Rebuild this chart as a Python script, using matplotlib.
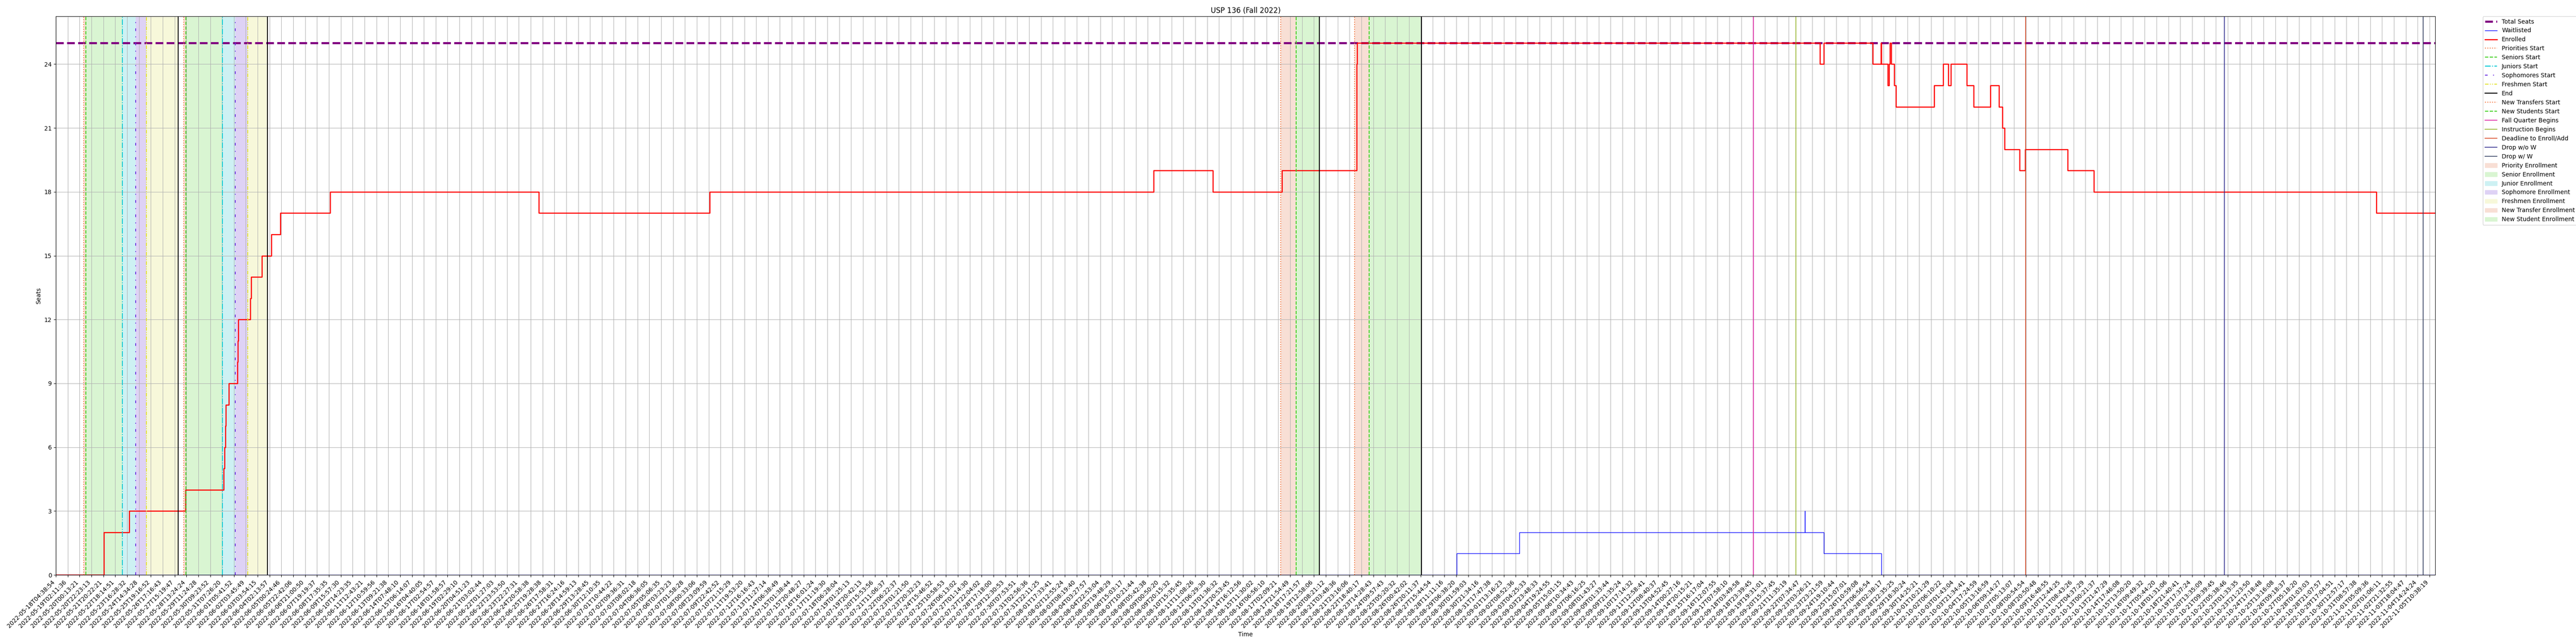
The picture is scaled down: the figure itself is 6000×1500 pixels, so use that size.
import numpy as np
import matplotlib
matplotlib.use("Agg")
import matplotlib.pyplot as plt
import matplotlib.dates as mdates
from matplotlib.patches import Patch
import pandas as pd

title = "USP 136 (Fall 2022)"
total_seats = 25

tick_times = [
    "2022-05-18T04:38:54", "2022-05-19T02:11:36", "2022-05-20T00:13:21", "2022-05-20T22:23:13",
    "2022-05-21T20:22:21", "2022-05-22T18:14:51", "2022-05-23T16:28:32", "2022-05-24T14:34:28",
    "2022-05-25T19:16:52", "2022-05-26T17:16:43", "2022-05-27T15:19:47", "2022-05-28T13:24:24",
    "2022-05-29T11:24:28", "2022-05-30T09:23:52", "2022-05-31T07:26:20", "2022-06-01T05:41:52",
    "2022-06-02T03:45:49", "2022-06-03T03:54:15", "2022-06-04T02:13:57", "2022-06-05T00:24:46",
    "2022-06-05T22:42:06", "2022-06-06T21:00:50", "2022-06-07T19:19:37", "2022-06-08T17:35:35",
    "2022-06-09T15:57:30", "2022-06-10T14:23:35", "2022-06-11T12:43:21", "2022-06-12T10:59:56",
    "2022-06-13T09:21:38", "2022-06-14T07:48:10", "2022-06-15T06:14:07", "2022-06-16T04:40:05",
    "2022-06-17T02:54:57", "2022-06-18T01:58:57", "2022-06-19T02:29:10", "2022-06-20T04:51:23",
    "2022-06-21T03:02:44", "2022-06-22T01:27:03", "2022-06-22T23:53:50", "2022-06-23T22:27:31",
    "2022-06-24T20:58:38", "2022-06-25T19:28:38", "2022-06-26T17:58:31", "2022-06-27T16:24:16",
    "2022-06-28T14:59:13", "2022-06-29T13:28:45", "2022-06-30T12:10:35", "2022-07-01T10:44:22",
    "2022-07-02T09:36:31", "2022-07-03T08:02:18", "2022-07-04T06:36:05", "2022-07-05T05:06:35",
    "2022-07-06T03:23:23", "2022-07-07T01:58:28", "2022-07-08T00:33:06", "2022-07-08T23:09:59",
    "2022-07-09T22:42:52", "2022-07-10T21:15:29", "2022-07-11T19:53:20", "2022-07-12T16:16:43",
    "2022-07-13T11:27:14", "2022-07-14T06:38:49", "2022-07-15T01:38:44", "2022-07-15T20:48:27",
    "2022-07-16T16:01:24", "2022-07-17T11:19:30", "2022-07-18T06:28:04", "2022-07-19T01:25:13",
    "2022-07-19T20:42:13", "2022-07-20T15:53:56", "2022-07-21T11:06:37", "2022-07-22T06:22:37",
    "2022-07-23T01:21:50", "2022-07-23T20:32:23", "2022-07-24T15:46:52", "2022-07-25T10:58:53",
    "2022-07-26T06:13:02", "2022-07-27T01:14:30", "2022-07-27T22:04:02", "2022-07-28T17:18:00",
    "2022-07-29T12:30:53", "2022-07-30T07:53:51", "2022-07-31T02:56:36", "2022-07-31T22:11:25",
    "2022-08-01T17:33:41", "2022-08-02T12:55:24", "2022-08-03T08:19:40", "2022-08-04T03:27:57",
    "2022-08-04T22:53:04", "2022-08-05T19:48:29", "2022-08-06T15:03:17", "2022-08-07T10:21:44",
    "2022-08-08T05:42:38", "2022-08-09T00:50:20", "2022-08-09T20:15:32", "2022-08-10T15:35:45",
    "2022-08-11T11:08:26", "2022-08-12T06:29:30", "2022-08-13T01:36:32", "2022-08-13T20:53:45",
    "2022-08-14T16:12:56", "2022-08-15T11:30:02", "2022-08-16T06:56:10", "2022-08-17T02:09:21",
    "2022-08-17T21:54:49", "2022-08-18T17:21:57", "2022-08-19T12:58:06", "2022-08-20T08:21:12",
    "2022-08-21T03:48:36", "2022-08-21T23:16:06", "2022-08-22T18:40:17", "2022-08-23T14:28:43",
    "2022-08-24T09:57:43", "2022-08-25T05:20:32", "2022-08-26T00:42:02", "2022-08-26T20:11:37",
    "2022-08-27T15:44:54", "2022-08-28T11:11:16", "2022-08-29T06:38:20", "2022-08-30T01:59:03",
    "2022-08-30T21:34:16", "2022-08-31T17:47:38", "2022-09-01T13:16:23", "2022-09-02T08:52:36",
    "2022-09-03T04:25:33", "2022-09-03T23:48:33", "2022-09-04T19:24:55", "2022-09-05T15:01:15",
    "2022-09-06T10:34:43", "2022-09-07T06:16:25", "2022-09-08T01:43:27", "2022-09-09T01:33:44",
    "2022-09-09T21:35:24", "2022-09-10T17:14:32", "2022-09-11T12:58:41", "2022-09-12T08:40:37",
    "2022-09-13T04:52:45", "2022-09-14T00:27:16", "2022-09-14T20:15:21", "2022-09-15T16:17:04",
    "2022-09-16T12:07:55", "2022-09-17T07:58:10", "2022-09-18T03:49:58", "2022-09-18T23:39:45",
    "2022-09-19T19:31:01", "2022-09-20T15:37:45", "2022-09-21T11:35:19", "2022-09-22T07:34:47",
    "2022-09-23T03:26:21", "2022-09-23T23:21:59", "2022-09-24T19:10:44", "2022-09-25T15:07:01",
    "2022-09-26T10:59:08", "2022-09-27T06:56:54", "2022-09-28T02:38:17", "2022-09-28T22:35:25",
    "2022-09-29T18:30:24", "2022-09-30T14:25:21", "2022-10-01T10:21:29", "2022-10-02T06:10:22",
    "2022-10-03T01:43:04", "2022-10-03T21:34:41", "2022-10-04T17:24:59", "2022-10-05T13:16:59",
    "2022-10-06T09:14:27", "2022-10-07T05:13:07", "2022-10-08T00:54:54", "2022-10-08T20:50:48",
    "2022-10-09T16:48:55", "2022-10-10T12:44:25", "2022-10-11T08:43:26", "2022-10-12T04:37:29",
    "2022-10-13T00:21:37", "2022-10-13T21:47:29", "2022-10-14T17:46:08", "2022-10-15T13:50:20",
    "2022-10-16T09:49:32", "2022-10-17T05:44:20", "2022-10-18T01:31:06", "2022-10-18T21:40:41",
    "2022-10-19T17:37:24", "2022-10-20T13:35:09", "2022-10-21T09:39:45", "2022-10-22T05:38:46",
    "2022-10-23T01:33:35", "2022-10-23T21:23:50", "2022-10-24T17:18:48", "2022-10-25T13:16:08",
    "2022-10-26T09:18:37", "2022-10-27T05:18:20", "2022-10-28T01:03:03", "2022-10-28T21:07:57",
    "2022-10-29T17:04:51", "2022-10-30T12:57:17", "2022-10-31T08:57:38", "2022-11-01T05:09:36",
    "2022-11-02T01:06:11", "2022-11-02T21:32:55", "2022-11-03T18:04:47", "2022-11-04T14:24:24",
    "2022-11-05T10:38:19",
]
data_end = "2022-11-05T20:05:00"

enrolled_times = [
    "2022-05-18T04:38:54", "2022-05-21T21:10", "2022-05-21T21:40", "2022-05-23T20:30",
    "2022-05-28T11:40", "2022-05-31T10:30", "2022-05-31T11:50", "2022-05-31T13:20",
    "2022-05-31T14:30", "2022-05-31T20:30", "2022-06-01T12:05", "2022-06-01T12:45",
    "2022-06-01T13:40", "2022-06-02T12:40", "2022-06-02T14:20", "2022-06-03T11:55",
    "2022-06-04T05:30", "2022-06-04T22:50", "2022-06-08T19:50", "2022-06-25T12:45",
    "2022-07-09T01:30", "2022-08-08T15:20", "2022-08-12T16:05", "2022-08-17T08:05",
    "2022-08-22T10:55", "2022-08-22T12:00",
    "2022-09-23T16:25", "2022-09-23T22:33", "2022-09-27T08:20", "2022-09-27T22:30",
    "2022-09-27T23:10", "2022-09-28T09:50", "2022-09-28T11:35", "2022-09-28T13:35",
    "2022-09-28T15:15", "2022-09-28T20:15", "2022-09-28T23:10", "2022-10-01T15:40",
    "2022-10-02T06:45", "2022-10-02T15:00", "2022-10-02T19:05", "2022-10-03T21:47",
    "2022-10-04T08:55", "2022-10-05T13:17", "2022-10-06T03:30", "2022-10-06T09:38",
    "2022-10-06T13:14", "2022-10-07T14:30", "2022-10-07T23:32", "2022-10-10T23:10",
    "2022-10-12T18:25", "2022-11-01T15:10",
]
enrolled_values = [
    0, 1, 2, 3,
    4, 5, 6, 7,
    8, 9, 10, 11,
    12, 13, 14, 15,
    16, 17, 18, 17,
    18, 19, 18, 19,
    24, 25,
    24, 25, 24, 25,
    24, 23, 24, 25,
    24, 23, 22, 23,
    24, 23, 24, 23,
    22, 23, 22, 21,
    20, 19, 20, 19,
    18, 17,
]

waitlist_times = [
    "2022-05-18T04:38:54", "2022-08-29T07:25", "2022-09-02T14:45", "2022-09-22T14:45",
    "2022-09-22T15:05", "2022-09-23T22:33", "2022-09-27T22:42",
]
waitlist_values = [0, 1, 2, 3, 2, 1, 0]

pass_event_names = ["Priorities Start", "Seniors Start", "Juniors Start",
                    "Sophomores Start", "Freshmen Start", "End"]
first_pass_times = ["2022-05-20T07:48", "2022-05-20T11:44", "2022-05-23T07:20",
                    "2022-05-24T08:25", "2022-05-25T08:20", "2022-05-27T22:10"]
second_pass_times = ["2022-05-28T08:32", "2022-05-28T12:20", "2022-05-31T07:53",
                     "2022-06-01T08:21", "2022-06-02T07:37", "2022-06-03T22:12"]
pass_span_names = ["Priority Enrollment", "Senior Enrollment", "Junior Enrollment",
                   "Sophomore Enrollment", "Freshmen Enrollment"]

new_event_names = ["New Transfers Start", "New Students Start", "End"]
new_pass1_times = ["2022-08-17T06:20", "2022-08-18T07:40", "2022-08-19T22:05"]
new_pass2_times = ["2022-08-22T07:25", "2022-08-23T07:20", "2022-08-26T21:35"]
new_span_names = ["New Transfer Enrollment", "New Student Enrollment"]

term_event_names = ["Fall Quarter Begins", "Instruction Begins", "Deadline to Enroll/Add",
                    "Drop w/o W", "Drop w/ W"]
term_event_times = ["2022-09-19T00:00", "2022-09-22T00:00", "2022-10-08T00:00",
                    "2022-10-22T00:00", "2022-11-05T00:00"]

# ---------------- styles ----------------
event_style = {
    "Priorities Start": dict(color="#f4733a", ls=":", lw=1.5),
    "Seniors Start": dict(color="#3fcf1f", ls="--", lw=1.5),
    "Juniors Start": dict(color="#00c8d4", ls="-.", lw=1.5),
    "Sophomores Start": dict(color="#6a2ee0", ls=(0, (3, 6, 1, 6)), lw=1.5),
    "Freshmen Start": dict(color="#e2e22e", ls=(0, (4, 1.5, 1, 1.5, 1, 1.5)), lw=1.5),
    "End": dict(color="black", ls="-", lw=1.5),
    "New Transfers Start": dict(color="#f4733a", ls=":", lw=1.5),
    "New Students Start": dict(color="#3fcf1f", ls="--", lw=1.5),
    "Fall Quarter Begins": dict(color="#dd1aa0", ls="-", lw=1.2),
    "Instruction Begins": dict(color="#8db01e", ls="-", lw=1.2),
    "Deadline to Enroll/Add": dict(color="#d8431f", ls="-", lw=1.2),
    "Drop w/o W": dict(color="#2e2a8c", ls="-", lw=1.2),
    "Drop w/ W": dict(color="#2e3a5c", ls="-", lw=1.2),
}
span_color = {
    "Priority Enrollment": "#f8dfd5",
    "Senior Enrollment": "#d9f5d2",
    "Junior Enrollment": "#cdf1f3",
    "Sophomore Enrollment": "#ded2f5",
    "Freshmen Enrollment": "#f7f8da",
    "New Transfer Enrollment": "#f8dfd5",
    "New Student Enrollment": "#d9f5d2",
}


def num(ts):
    return mdates.date2num(pd.to_datetime(ts, format="ISO8601").to_pydatetime())


# --------------- index-like time scale (ticks evenly spaced) ---------------
tn = np.asarray(num(tick_times), dtype=float)
ti = np.arange(len(tn), dtype=float)


def fwd(x):
    x = np.asarray(x, dtype=float)
    y = np.interp(x, tn, ti)
    y = np.where(x < tn[0], (x - tn[0]) / (tn[1] - tn[0]), y)
    y = np.where(x > tn[-1], ti[-1] + (x - tn[-1]) / (tn[-1] - tn[-2]), y)
    return y


def inv(y):
    y = np.asarray(y, dtype=float)
    x = np.interp(y, ti, tn)
    x = np.where(y < 0, tn[0] + y * (tn[1] - tn[0]), x)
    x = np.where(y > ti[-1], tn[-1] + (y - ti[-1]) * (tn[-1] - tn[-2]), x)
    return x


fig = plt.figure(figsize=(60, 15), dpi=100)
ax = fig.add_axes([0.0217, 0.1073, 0.9453 - 0.0217, 0.9747 - 0.1073])
ax.set_xscale("function", functions=(fwd, inv))

end_num = float(num(data_end))
x_start = float(tn[0])

handles, labels = [], []

h = ax.axhline(total_seats, color="purple", ls="--", lw=3.5)
handles.append(h); labels.append("Total Seats")

wx = np.append(num(waitlist_times), end_num)
wy = np.append(waitlist_values, waitlist_values[-1])
h, = ax.step(wx, wy, where="post", color="blue", lw=1)
handles.append(h); labels.append("Waitlisted")

ex = np.append(num(enrolled_times), end_num)
ey = np.append(enrolled_values, enrolled_values[-1])
h, = ax.step(ex, ey, where="post", color="red", lw=1.8)
handles.append(h); labels.append("Enrolled")

for times in (first_pass_times, second_pass_times):
    t = num(times)
    for i, name in enumerate(pass_span_names):
        ax.axvspan(t[i], t[i + 1], color=span_color[name], lw=0, zorder=0)
    for i, name in enumerate(pass_event_names):
        h = ax.axvline(t[i], **event_style[name])
        if name not in labels:
            handles.append(h); labels.append(name)

for times in (new_pass1_times, new_pass2_times):
    t = num(times)
    for i, name in enumerate(new_span_names):
        ax.axvspan(t[i], t[i + 1], color=span_color[name], lw=0, zorder=0)
    for i, name in enumerate(new_event_names):
        h = ax.axvline(t[i], **event_style[name])
        if name not in labels:
            handles.append(h); labels.append(name)

for name, t in zip(term_event_names, num(term_event_times)):
    h = ax.axvline(t, **event_style[name])
    handles.append(h); labels.append(name)

for name in pass_span_names + new_span_names:
    handles.append(Patch(facecolor=span_color[name], edgecolor=span_color[name]))
    labels.append(name)

ax.set_xlim(x_start, end_num)
ax.set_ylim(0, total_seats * 1.05)
ax.set_yticks(np.arange(0, total_seats, 3))
ax.set_xticks(tn)
ax.set_xticklabels(tick_times, rotation=45, ha="right")
ax.grid(True, color="#b0b0b0", lw=0.8)
ax.set_axisbelow(True)
ax.set_title(title)
ax.set_xlabel("Time")
ax.set_ylabel("Seats")
ax.legend(handles, labels, loc="upper left", bbox_to_anchor=(1.02, 1), borderaxespad=0)

fig.savefig("out.png", dpi=100)
